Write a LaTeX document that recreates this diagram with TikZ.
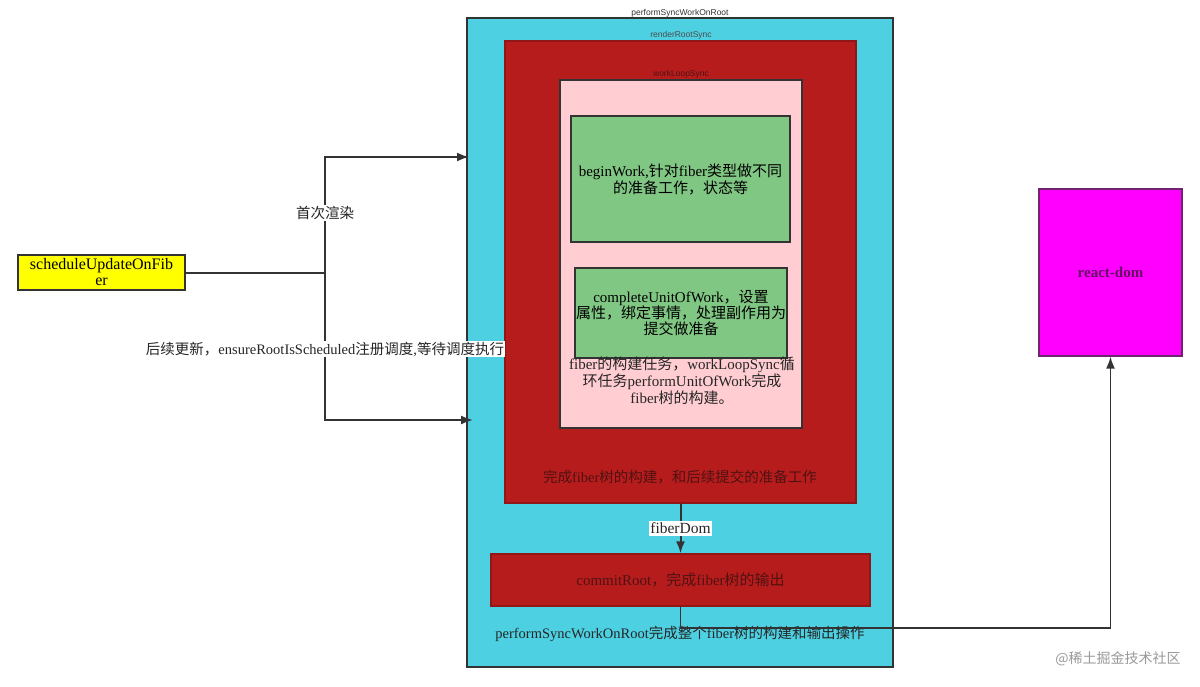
\documentclass[tikz,border=0pt]{standalone}
\usepackage{fontspec}
\setmainfont{Liberation Serif}
\setsansfont{Liberation Sans}
\newfontfamily\cjk{Noto Sans CJK SC}
\newcommand\zh[1]{{\cjk #1}}
\usetikzlibrary{arrows.meta}
\definecolor{cyanbox}{RGB}{77,208,225}
\definecolor{redbox}{RGB}{183,28,28}
\definecolor{pinkbox}{RGB}{255,205,210}
\definecolor{greenbox}{RGB}{129,199,132}
\definecolor{yellowbox}{RGB}{255,255,0}
\definecolor{magbox}{RGB}{255,0,255}
\definecolor{edge}{RGB}{51,51,51}
\definecolor{darkred}{RGB}{80,18,18}
\definecolor{darkpurple}{RGB}{100,15,100}
\tikzset{
  box/.style={draw=edge, line width=1.3pt, inner sep=0pt, align=center},
  txt/.style={inner sep=0pt, align=center, font=\fontsize{14.5}{15.5}\selectfont, text=black!85},
  small/.style={inner sep=0pt, font=\sffamily\fontsize{8.5}{10}\selectfont, text=black!80},
  arr/.style={draw=edge, line width=2pt, -{Latex[length=12pt,width=9pt]}},
  ln/.style={draw=edge, line width=2pt},
}
\begin{document}
\begin{tikzpicture}[x=1pt,y=-1pt]
\useasboundingbox[fill=white] (0,0) rectangle (1200,686);
% containers
\node[box, fill=cyanbox, minimum width=426pt, minimum height=649pt] (cyan) at (680,342.5) {};
\node[box, fill=redbox, draw=redbox!80!black, minimum width=351pt, minimum height=462pt] (red1) at (680.5,272) {};
\node[box, fill=pinkbox, minimum width=242pt, minimum height=348pt] (pink) at (681,254) {};
\node[box, fill=greenbox, minimum width=219pt, minimum height=126pt, font=\fontsize{15}{17}\selectfont] (g1) at (680.5,179)
  {beginWork,\zh{针对}fiber\zh{类型做不同}\\\zh{的准备工作，状态等}};
\node[box, fill=greenbox, minimum width=212pt, minimum height=90pt, font=\fontsize{15}{16}\selectfont] (g2) at (681,313)
  {completeUnitOfWork\zh{，设置}\\\zh{属性，绑定事情，处理副作用为}\\\zh{提交做准备}};
\node[box, fill=redbox, draw=redbox!80!black, minimum width=379pt, minimum height=52pt, font=\fontsize{15}{18}\selectfont, text=darkred] (commit) at (680.5,580)
  {commitRoot\zh{，完成}fiber\zh{树的输出}};
\node[box, fill=yellowbox, minimum width=167pt, minimum height=35pt, font=\fontsize{16}{16}\selectfont] (ys) at (101.5,272.5)
  {scheduleUpdateOnFib\\er};
\node[box, fill=magbox, draw=edge!70!magbox, minimum width=143pt, minimum height=167pt] (rd) at (1110.5,272.5) {};
\node[inner sep=0pt, font=\bfseries\fontsize{15}{18}\selectfont, text=darkpurple] (rdt) at (1110.5,272) {react-dom};
% labels
\node[small] (lcyan) at (680,13) {performSyncWorkOnRoot};
\node[small, text=black!70] (lred) at (681,35) {renderRootSync};
\node[small, text=darkred] (lpink) at (681,74) {workLoopSync};
\node[txt, font=\fontsize{15}{15.5}\selectfont] (tpink) at (682,381) {fiber\zh{的构建任务，}workLoopSync\zh{循}\\\zh{环任务}performUnitOfWork\zh{完成}\\fiber\zh{树的构建。}};
\node[txt, text=darkred] (tred) at (680,477) {\zh{完成}fiber\zh{树的构建，和后续提交的准备工作}};
\node[txt] (tcyan) at (680,634) {performSyncWorkOnRoot\zh{完成整个}fiber\zh{树的构建和输出操作}};
% connectors
\coordinate (j) at (325,272.5);
\coordinate (up) at (325,157);
\coordinate (dn) at (325,420);
\coordinate (t1) at (469,157);
\coordinate (t2) at (473,420);
\draw[ln] (ys.east) -- (j);
\draw[arr] (j) -- (up) -- (t1);
\draw[arr] (j) -- (dn) -- (t2);
\node[txt, fill=white, inner sep=1pt] (l1) at (325,213) {\zh{首次渲染}};
\node[txt, fill=white, inner sep=1pt] (l2) at (325,349) {\zh{后续更新，}ensureRootIsScheduled\zh{注册调度}{,}\zh{等待调度执行}};
\draw[arr] (red1.south) -- (commit.north) node[midway, txt, font=\fontsize{15.5}{17}\selectfont, fill=white, inner sep=1.5pt] (fd) {fiberDom};
\draw[arr, line width=1.7pt] (commit.south) -- ++(0,21) -| (rd.south);
% watermark
\node[inner sep=0pt, font=\cjk\fontsize{14}{16}\selectfont, text=black!40] (wm) at (1118,659) {@稀土掘金技术社区};
\end{tikzpicture}
\end{document}
